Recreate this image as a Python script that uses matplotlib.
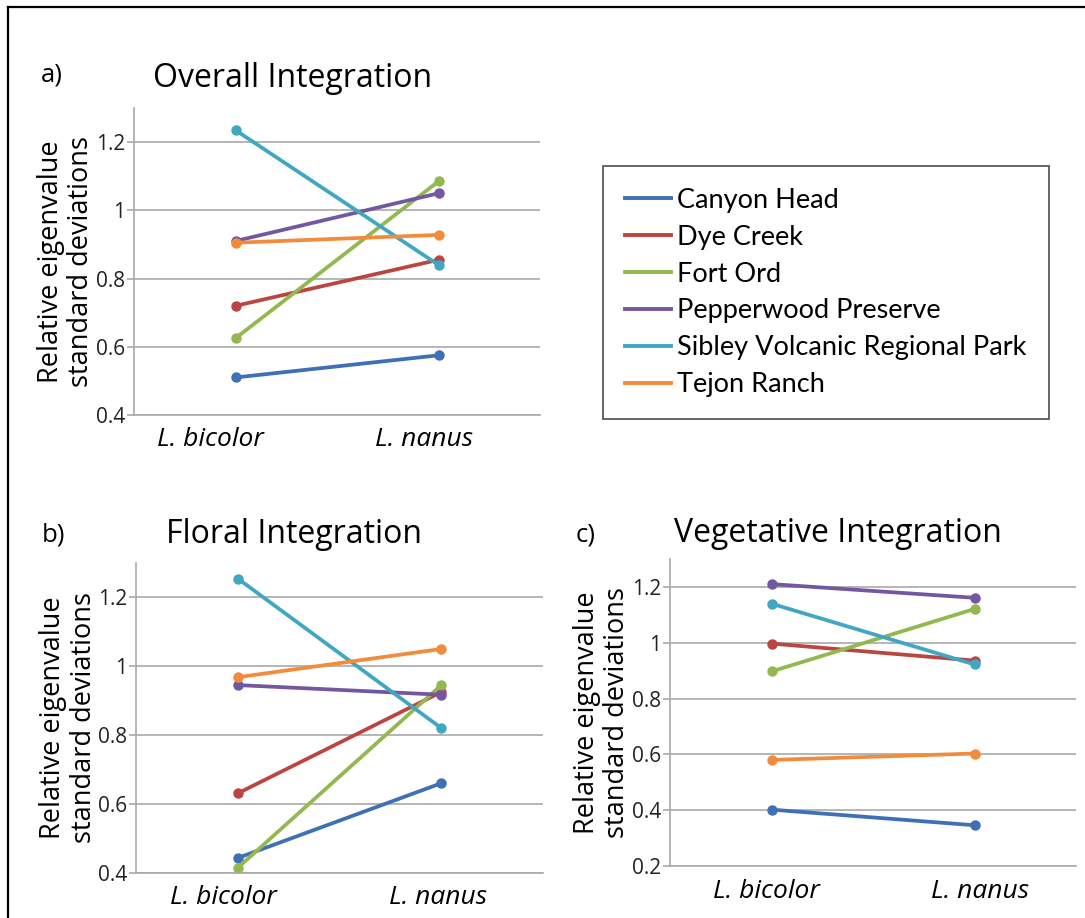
import numpy as np
import matplotlib
matplotlib.use("Agg")
import matplotlib.pyplot as plt
from matplotlib.lines import Line2D
from matplotlib.ticker import MultipleLocator, FuncFormatter
from matplotlib.transforms import ScaledTranslation

# ── Data ─────────────────────────────────────────────────────────
species = ["L. bicolor", "L. nanus"]
sites = ["Canyon Head", "Dye Creek", "Fort Ord", "Pepperwood Preserve",
         "Sibley Volcanic Regional Park", "Tejon Ranch"]

overall_bicolor = [0.51, 0.72, 0.625, 0.91, 1.235, 0.905]
overall_nanus = [0.575, 0.855, 1.085, 1.05, 0.84, 0.928]

floral_bicolor = [0.443, 0.631, 0.415, 0.945, 1.254, 0.968]
floral_nanus = [0.66, 0.925, 0.945, 0.917, 0.82, 1.05]

veg_bicolor = [0.402, 0.997, 0.897, 1.21, 1.14, 0.58]
veg_nanus = [0.346, 0.936, 1.121, 1.161, 0.922, 0.603]

colors = ["#3f6fb6", "#bb4541", "#92b84f", "#7457a1", "#40a7c3", "#f28c3d"]

W, H = 1085, 918
FONT = "Open Sans"
GRID = "#a9a9a9"

plt.rcParams["font.family"] = [FONT, "DejaVu Sans"]

fig = plt.figure(figsize=(W / 100, H / 100), dpi=100)


def px(x, y):
    """pixel position (from top-left) -> figure fraction"""
    return x / W, 1 - y / H


def panel(rect, bicolor, nanus, ymin, xlab_shift):
    ax = fig.add_axes(rect)
    for i, site in enumerate(sites):
        ax.plot([0, 1], [bicolor[i], nanus[i]], color=colors[i], lw=2.7,
                marker="o", ms=6.5, solid_capstyle="round", label=site)
    ax.set_xlim(-0.5, 1.5)
    ax.set_ylim(ymin, 1.3)
    ax.yaxis.set_major_locator(MultipleLocator(0.2))
    ax.yaxis.set_major_formatter(FuncFormatter(lambda v, p: f"{v:g}"))
    ax.grid(axis="y", color=GRID, lw=1.2)
    ax.set_axisbelow(True)
    for s in ["top", "right"]:
        ax.spines[s].set_visible(False)
    for s in ["left", "bottom"]:
        ax.spines[s].set_color(GRID)
        ax.spines[s].set_linewidth(1.2)
    ax.tick_params(axis="y", length=5, width=1.2, color=GRID, pad=1.5,
                   labelsize=15, labelcolor="#222222")
    ax.tick_params(axis="x", length=0, pad=9, labelsize=19)
    ax.set_xticks([0, 1])
    ax.set_xticklabels(species, style="italic")
    for lab, dx in zip(ax.get_xticklabels(), xlab_shift):
        lab.set_transform(lab.get_transform()
                          + ScaledTranslation(dx / 100, 0, fig.dpi_scale_trans))
    ax.set_ylabel("Relative eigenvalue\nstandard deviations", fontsize=19.5,
                  linespacing=1.12, va="center")
    ax.yaxis.set_label_coords(-0.167, 0.5)
    return ax


ax_a = panel([134 / W, 1 - 415 / H, 406 / W, 307 / H],
             overall_bicolor, overall_nanus, 0.4, (-25, -14))
ax_b = panel([136.4 / W, 1 - 872.7 / H, 406.6 / W, 309.8 / H],
             floral_bicolor, floral_nanus, 0.4, (-15, -3))
ax_c = panel([670 / W, 1 - 866 / H, 406 / W, 307 / H],
             veg_bicolor, veg_nanus, 0.2, (-5, 6))

# panel letters and titles
for (lx, ly), letter, (tx, ty), title in [
    ((41, 81), "a)", (293, 87), "Overall Integration"),
    ((42, 542), "b)", (294, 543), "Floral Integration"),
    ((576, 541), "c)", (838, 542), "Vegetative Integration"),
]:
    fig.text(*px(lx, ly), letter, fontsize=18.5, ha="left", va="baseline")
    fig.text(*px(tx, ty), title, fontsize=23, ha="center", va="baseline")

# legend shared by all panels
handles = [Line2D([], [], color=c, lw=2.8) for c in colors]
leg = fig.legend(handles, sites, loc="upper left",
                 bbox_to_anchor=px(603, 166), borderaxespad=0,
                 prop={"family": "Lato", "size": 19.5},
                 handlelength=1.7, handletextpad=0.25, labelspacing=0.44,
                 borderpad=0.8, fancybox=False, framealpha=1)
leg.get_frame().set_edgecolor("#595959")
leg.get_frame().set_linewidth(1.3)

# outer frame (top and left edges)
fig.add_artist(Line2D([8 / W, 1], [1 - 7 / H, 1 - 7 / H], color="black",
                      lw=1.6, transform=fig.transFigure))
fig.add_artist(Line2D([8 / W, 8 / W], [0, 1 - 7 / H], color="black",
                      lw=1.6, transform=fig.transFigure))

fig.savefig("out.png", dpi=100)
